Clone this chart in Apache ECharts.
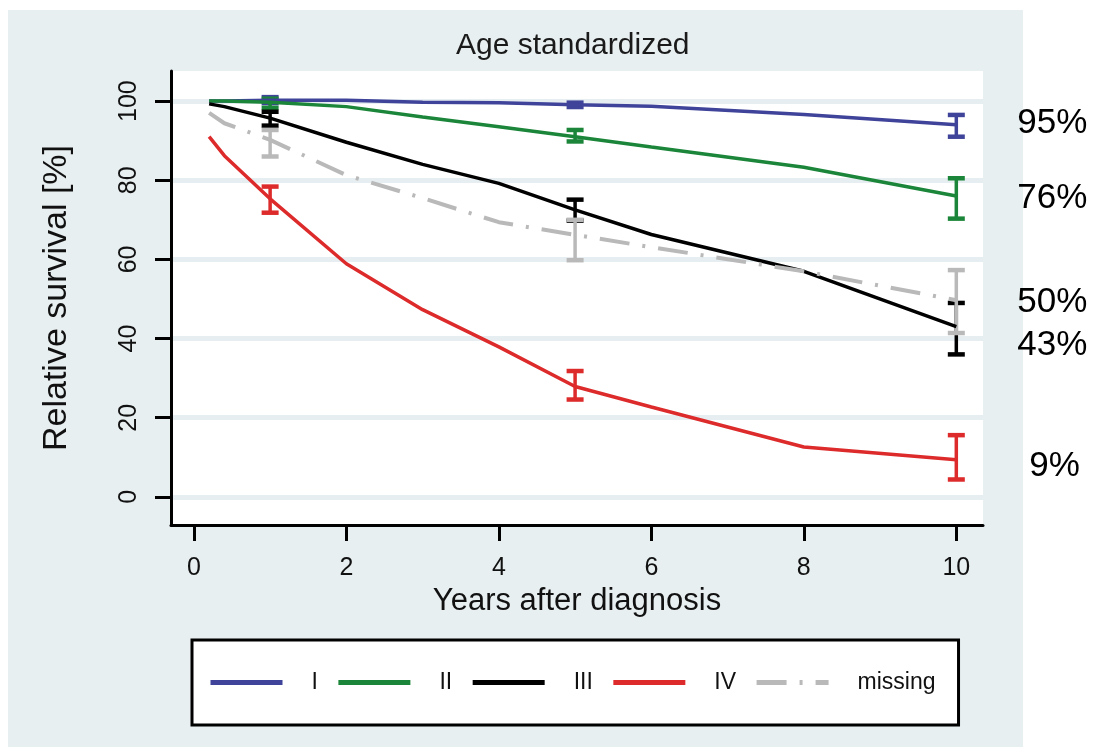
<!DOCTYPE html>
<html><head><meta charset="utf-8">
<script src="https://cdn.jsdelivr.net/npm/echarts@6/dist/echarts.min.js"></script>
<style>
html,body{margin:0;padding:0;background:#fff;}
#panel{position:absolute;left:8px;top:10px;width:1015px;height:737px;background:#e8eff1;}
#chart{position:absolute;left:0;top:0;width:1094px;height:747px;}
</style></head><body>
<div id="panel"></div><div id="chart"></div>
<script>
// ---- data ----
const titleText = 'Age standardized';
const xName = 'Years after diagnosis';
const yName = 'Relative survival [%]';
const xTicks = [0, 2, 4, 6, 8, 10];
const yTicks = [0, 20, 40, 60, 80, 100];
const stageNames = ['I', 'II', 'III', 'IV', 'missing'];
const years = [0.2, 0.4, 1, 2, 3, 4, 5, 6, 8, 10];
const survI = [100, 100, 100.2, 100.2, 99.7, 99.6, 99.1, 98.7, 96.6, 94];
const survII = [100, 100, 99.7, 98.6, 96, 93.5, 91, 88.4, 83.3, 76];
const survIII = [99.3, 98.6, 95.7, 89.6, 84, 79.2, 72.5, 66.3, 57, 43];
const survIV = [91, 86.2, 75.3, 58.9, 47.3, 37.9, 27.9, 22.7, 12.6, 9.4];
const survMissing = [97, 94.4, 90.2, 81.3, 75.5, 69.4, 66.2, 63.1, 57, 49.7];
const ciYears = [1, 5, 10];
const ciLowI = [99.5, 98.5, 91];
const ciHighI = [101, 99.6, 96.5];
const ciLowII = [98.3, 89.8, 70.3];
const ciHighII = [100.6, 92.7, 80.5];
const ciLowIII = [93.8, 69.8, 36];
const ciHighIII = [97.3, 75.1, 49];
const ciLowIV = [71.8, 24.6, 4.4];
const ciHighIV = [78.4, 31.8, 15.6];
const ciLowMissing = [86, 59.8, 41.4];
const ciHighMissing = [92.7, 70, 57.3];
const endLabels = ['95%', '76%', '43%', '9%', '50%'];

// ---- build ----
const FONT = 'Liberation Sans, Arial, sans-serif';
const colors = ['#3f4399', '#1b8539', '#000000', '#dd2a2a', '#b9b9b9'];
const survs = [survI, survII, survIII, survIV, survMissing];
const ciLows = [ciLowI, ciLowII, ciLowIII, ciLowIV, ciLowMissing];
const ciHighs = [ciHighI, ciHighII, ciHighIII, ciHighIV, ciHighMissing];
const labelOffsets = [[0, -1], [0, 2], [0, 19], [12, 7], [0, 2]];

function errRender(color) {
  return function (params, api) {
    const x = api.value(0), lo = api.value(1), hi = api.value(2);
    const top = api.coord([x, hi]), bot = api.coord([x, lo]);
    const hw = 8.5;
    return { type: 'group', children: [
      { type: 'line', shape: { x1: top[0], y1: top[1], x2: bot[0], y2: bot[1] }, style: { stroke: color, lineWidth: 3.5 } },
      { type: 'line', shape: { x1: top[0] - hw, y1: top[1], x2: top[0] + hw, y2: top[1] }, style: { stroke: color, lineWidth: 4.5 } },
      { type: 'line', shape: { x1: bot[0] - hw, y1: bot[1], x2: bot[0] + hw, y2: bot[1] }, style: { stroke: color, lineWidth: 4.5 } }
    ]};
  };
}

const series = [];
stageNames.forEach((name, i) => {
  const isMissing = name === 'missing';
  series.push({
    name: name,
    type: 'line',
    data: years.map((y, k) => [y, survs[i][k]]),
    symbol: 'none',
    color: colors[i],
    lineStyle: { color: colors[i], width: isMissing ? 4 : 3.5, type: isMissing ? [30, 13, 3, 13] : 'solid' },
    endLabel: {
      show: true,
      formatter: () => endLabels[i],
      fontSize: 35, fontFamily: FONT, color: '#000',
      distance: 61,
      offset: labelOffsets[i]
    }
  });
  series.push({
    name: name + ' CI',
    type: 'custom',
    renderItem: errRender(colors[i]),
    data: ciYears.map((y, k) => [y, ciLows[i][k], ciHighs[i][k]]),
    encode: { x: 0, y: [1, 2] }
  });
});

const chart = echarts.init(document.getElementById('chart'), null, { renderer: 'canvas' });
chart.setOption({
  animation: false,
  backgroundColor: 'transparent',
  title: {
    text: titleText, left: 456, top: 31, padding: 0,
    textStyle: { fontSize: 30, fontWeight: 'normal', color: '#1a1a1a', fontFamily: FONT }
  },
  grid: { left: 171, right: 111, top: 71, bottom: 222, show: true, backgroundColor: '#ffffff', borderWidth: 0 },
  legend: {
    data: stageNames,
    left: 192, top: 640,
    orient: 'horizontal',
    itemWidth: 72, itemHeight: 21, itemGap: 18,
    padding: [31, 23, 31, 16],
    backgroundColor: '#fff', borderColor: '#000', borderWidth: 3, borderRadius: 0,
    lineStyle: { width: 5 },
    itemStyle: { opacity: 0, borderWidth: 0 },
    textStyle: { fontSize: 23, color: '#111', fontFamily: FONT, padding: [0, 0, 0, 24] }
  },
  xAxis: {
    type: 'value', min: -0.3, max: 10.35,
    name: xName, nameLocation: 'middle', nameGap: 60,
    nameTextStyle: { fontSize: 31, color: '#111', fontFamily: FONT },
    axisLine: { show: true, onZero: false, lineStyle: { color: '#000', width: 3 } },
    axisTick: { show: true, customValues: xTicks, length: 16, lineStyle: { color: '#000', width: 3 } },
    axisLabel: { customValues: xTicks, fontSize: 25, color: '#111', fontFamily: FONT, margin: 31 },
    splitLine: { show: false }
  },
  yAxis: {
    type: 'value', min: -7.1, max: 107.6,
    name: yName, nameLocation: 'middle', nameGap: 97,
    nameTextStyle: { fontSize: 34, color: '#111', fontFamily: FONT },
    axisLine: { show: true, onZero: false, lineStyle: { color: '#000', width: 3 } },
    axisTick: { show: true, customValues: yTicks, length: 16, lineStyle: { color: '#000', width: 3 } },
    axisLabel: { customValues: yTicks, rotate: 90, fontSize: 25, color: '#111', fontFamily: FONT, margin: 29 },
    splitLine: { show: true, lineStyle: { color: '#e7eef1', width: 5 } }
  },
  series: series
});
</script>
</body></html>
